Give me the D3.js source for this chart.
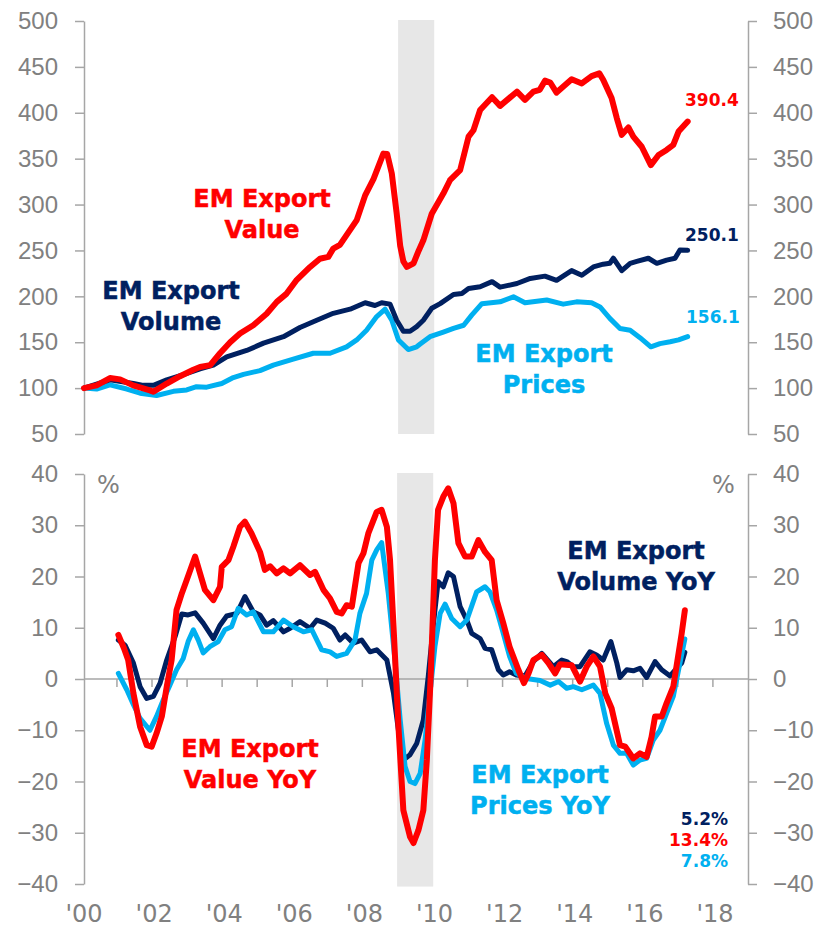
<!DOCTYPE html>
<html>
<head>
<meta charset="utf-8">
<script src="https://cdn.jsdelivr.net/npm/d3@7"></script>
<style>
  body { margin: 0; background: #fff; }
  svg { display: block; font-family: "DejaVu Sans", Verdana, sans-serif; }
  .axis path, .axis line { stroke: #a6a6a6; stroke-width: 1.5; }
  .axis text { fill: #808080; font-size: 24px; }
</style>
</head>
<body>
<svg id="chart" width="825" height="930"></svg>
<script>
// [year, index] pairs, Jan 2000 = 100
var exportValue = [[2000,100],[2000.36,103],[2000.74,111],[2001.03,109.5],[2001.4,103],[2001.88,97.5],[2001.98,96],[2002.36,105],[2002.74,113],[2003.12,120],[2003.31,123],[2003.6,125],[2003.88,138],[2004.17,150],[2004.45,159.5],[2004.83,168.5],[2005.21,181],[2005.5,194],[2005.78,203],[2006.07,218],[2006.45,232],[2006.73,241],[2006.97,243],[2007.11,252],[2007.3,256],[2007.78,283],[2008.02,310],[2008.26,328],[2008.54,355.5],[2008.65,355],[2008.78,334],[2008.92,290],[2009.02,255],[2009.11,238],[2009.21,232],[2009.4,236],[2009.55,250],[2009.68,261],[2009.92,290],[2010.25,312],[2010.44,326.5],[2010.73,337.5],[2010.97,374],[2011.11,381],[2011.3,403],[2011.64,417],[2011.87,407.5],[2012.35,423],[2012.58,414],[2012.82,423],[2013.0,425],[2013.15,435],[2013.3,433],[2013.48,422],[2013.91,436.5],[2014.2,432],[2014.48,440],[2014.7,443],[2014.81,436],[2015.05,416],[2015.2,394],[2015.34,376],[2015.53,384],[2015.67,374],[2015.91,363],[2016.17,343],[2016.39,354],[2016.62,359.5],[2016.81,365],[2016.96,379.5],[2017.22,390.4]];
var exportVolume = [[2000,100],[2000.74,109],[2001.41,105],[2001.69,103],[2001.98,103],[2002.36,109],[2002.79,114],[2003.31,121],[2003.69,125],[2004.07,134],[2004.64,141],[2005.12,149],[2005.69,156],[2006.16,166],[2006.64,174],[2007.11,181.5],[2007.59,186],[2008.02,193],[2008.3,190],[2008.49,193],[2008.73,191.5],[2008.92,174],[2009.11,162],[2009.3,162],[2009.49,167],[2009.68,174],[2009.92,187],[2010.16,192],[2010.54,202],[2010.78,203],[2010.97,208.5],[2011.3,210.5],[2011.64,216],[2011.87,210],[2012.35,214],[2012.73,219.5],[2013.15,222],[2013.48,217.5],[2013.91,228],[2014.2,223],[2014.53,232],[2014.81,235],[2015.0,236],[2015.1,241.5],[2015.34,228],[2015.58,236],[2015.77,238],[2016.1,241.5],[2016.34,236],[2016.62,239.5],[2016.86,241.5],[2017.0,250.5],[2017.22,250.1]];
var exportPrices = [[2000,100],[2000.36,99],[2000.74,103.5],[2001.22,99],[2001.6,94.5],[2002.07,92],[2002.55,96.5],[2002.93,98],[2003.21,101.5],[2003.5,101],[2003.93,105],[2004.26,111.5],[2004.55,115],[2005.02,119],[2005.4,125],[2005.97,131.5],[2006.54,138],[2007.02,138],[2007.49,145],[2007.78,152.5],[2008.06,163],[2008.35,178],[2008.59,186],[2008.78,174],[2008.97,152.5],[2009.25,142],[2009.49,145],[2009.59,148],[2009.87,156],[2010.25,161],[2010.54,165],[2010.83,168.5],[2011.06,179.5],[2011.35,192],[2011.87,194],[2012.25,199.5],[2012.58,193],[2013.2,196],[2013.67,191.5],[2014.05,194],[2014.48,193],[2014.72,188.5],[2015.0,176],[2015.29,165],[2015.58,163],[2015.86,155],[2016.17,145],[2016.43,148.5],[2016.72,150.5],[2016.96,152.5],[2017.22,156.1]];

// [year, % yoy]
var valueYoY = [[2000.98,8.6],[2001.14,6],[2001.26,3.7],[2001.41,-2.8],[2001.6,-9.3],[2001.79,-12.9],[2001.93,-13.2],[2002.07,-10.6],[2002.22,-7.3],[2002.36,-1.5],[2002.5,3.7],[2002.64,13.5],[2002.79,16.7],[2002.93,19.3],[2003.17,23.9],[2003.31,20.6],[2003.45,17.4],[2003.69,15.4],[2003.88,18],[2003.93,21.9],[2004.12,23.2],[2004.26,25.8],[2004.45,29.7],[2004.59,30.7],[2004.78,28.4],[2005.02,24.8],[2005.16,21.3],[2005.31,22],[2005.5,20.6],[2005.69,21.6],[2005.88,20.6],[2006.16,22.2],[2006.45,20.3],[2006.59,20.9],[2006.83,17.4],[2007.02,15.7],[2007.21,13.1],[2007.35,12.8],[2007.49,14.4],[2007.64,14.1],[2007.83,22.6],[2007.97,24.5],[2008.11,28.4],[2008.35,32.6],[2008.49,33],[2008.64,29.7],[2008.73,23.2],[2008.83,10.2],[2008.97,-9.3],[2009.11,-25.6],[2009.3,-30.8],[2009.4,-32],[2009.54,-29.5],[2009.68,-25.6],[2009.78,-15.8],[2009.89,0.5],[2010.01,23.2],[2010.1,33],[2010.25,35.6],[2010.39,37.2],[2010.54,34.3],[2010.68,26.5],[2010.87,23.9],[2011.06,23.9],[2011.25,27.1],[2011.44,24.8],[2011.63,23.2],[2011.77,15.4],[2011.96,10.9],[2012.14,6.3],[2012.39,1.8],[2012.55,-0.8],[2012.68,1.1],[2012.82,3.7],[2013.06,4.7],[2013.25,3.1],[2013.44,1.1],[2013.58,2.9],[2013.91,2.7],[2014.15,-0.5],[2014.34,2.4],[2014.53,4.4],[2014.72,2.4],[2014.87,-2.8],[2015.05,-5.7],[2015.29,-12.9],[2015.44,-13.2],[2015.67,-15.5],[2015.86,-14.5],[2016.05,-15.2],[2016.19,-11.3],[2016.29,-7.3],[2016.48,-7.3],[2016.62,-4.7],[2016.81,-1.5],[2016.96,5],[2017.05,8.9],[2017.14,13.4]];
var volumeYoY = [[2000.98,7.6],[2001.17,6.6],[2001.41,3.1],[2001.6,-1.5],[2001.79,-3.8],[2001.98,-3.4],[2002.17,-0.8],[2002.36,3.7],[2002.6,8.3],[2002.79,12.7],[2002.97,12.5],[2003.17,12.9],[2003.4,10.9],[2003.69,7.9],[2003.88,10.5],[2004.07,12.3],[2004.36,12.8],[2004.59,16.1],[2004.83,13.1],[2005.02,12.5],[2005.21,10.5],[2005.4,11.4],[2005.69,9.2],[2005.88,9.9],[2006.16,11.2],[2006.45,9.9],[2006.64,11.5],[2006.88,10.9],[2007.11,9.9],[2007.3,7.6],[2007.45,8.6],[2007.68,7],[2007.92,7.6],[2008.16,5.3],[2008.35,5.7],[2008.64,3.7],[2008.83,-2.8],[2009.02,-12.6],[2009.11,-15.8],[2009.3,-14.8],[2009.49,-12.6],[2009.68,-8],[2009.82,0.5],[2009.96,10.2],[2010.1,19],[2010.25,18],[2010.39,20.7],[2010.54,20],[2010.73,14.1],[2010.92,11.5],[2011.06,8.9],[2011.3,7.9],[2011.44,6],[2011.63,5.7],[2011.82,1.8],[2011.96,0.8],[2012.14,1.4],[2012.33,0.8],[2012.58,0.6],[2012.82,3.4],[2013.06,5],[2013.39,2.4],[2013.63,3.7],[2013.77,3.4],[2013.96,2.4],[2014.15,2.4],[2014.43,5.3],[2014.62,4.7],[2014.81,3.7],[2015.03,7.3],[2015.2,3.1],[2015.29,0.3],[2015.48,1.8],[2015.67,1.6],[2015.86,2.1],[2016.05,0.3],[2016.29,3.4],[2016.48,1.8],[2016.72,0.6],[2016.91,2.1],[2017.05,3.1],[2017.14,5.2]];
var pricesYoY = [[2000.98,1.1],[2001.22,-2.1],[2001.41,-5],[2001.6,-7.7],[2001.88,-10],[2002.07,-7.3],[2002.26,-4.1],[2002.45,-1.2],[2002.64,1.8],[2002.83,4],[2002.97,7.3],[2003.12,9.6],[2003.26,7.6],[2003.4,5.1],[2003.59,6.3],[2003.83,7.3],[2004.02,9.6],[2004.21,10.2],[2004.4,13.8],[2004.64,12.5],[2004.83,13.1],[2005.12,9.2],[2005.4,9.2],[2005.69,11.5],[2005.97,10.2],[2006.26,9.2],[2006.5,9.6],[2006.78,5.7],[2007.02,5.3],[2007.21,4.4],[2007.49,5],[2007.73,7.6],[2007.87,12.8],[2008.06,16.7],[2008.21,23.2],[2008.35,25.2],[2008.49,26.6],[2008.68,16.7],[2008.87,3.7],[2009.02,-8],[2009.16,-17.1],[2009.3,-20],[2009.44,-20.4],[2009.59,-18.4],[2009.73,-11.9],[2009.87,-2.8],[2010.01,6.3],[2010.16,12.8],[2010.3,14.6],[2010.49,11.8],[2010.73,10.2],[2010.92,11.5],[2011.2,17],[2011.44,18],[2011.58,17],[2011.77,13.5],[2011.96,8.9],[2012.14,4.4],[2012.33,1.1],[2012.62,0.1],[2013.01,-0.3],[2013.3,-1.2],[2013.54,-0.5],[2013.77,-1.8],[2013.96,-1.5],[2014.2,-2.1],[2014.53,-1.2],[2014.72,-2.8],[2014.91,-8.7],[2015.1,-12.9],[2015.29,-14.5],[2015.48,-14.5],[2015.67,-16.8],[2015.86,-15.8],[2016.05,-15.5],[2016.24,-11.9],[2016.43,-10],[2016.62,-6.7],[2016.81,-3.4],[2017.0,3.1],[2017.14,7.8]];

var topTicks = [50, 100, 150, 200, 250, 300, 350, 400, 450, 500];
var bottomTicks = [-40, -30, -20, -10, 0, 10, 20, 30, 40];
var yearLabels = ["'00", "'02", "'04", "'06", "'08", "'10", "'12", "'14", "'16", "'18"];
var labelYears = [2000, 2002, 2004, 2006, 2008, 2010, 2012, 2014, 2016, 2018];
var tickYears = [2001, 2002, 2003, 2004, 2005, 2006, 2007, 2008, 2009, 2010, 2011, 2012, 2013, 2014, 2015, 2016, 2017, 2018];
var recession = [2008.96, 2009.99];

var RED = "#ff0000", NAVY = "#002060", BLUE = "#00b0f0";

var svg = d3.select("#chart");
var x = d3.scaleLinear().domain([2000, 2018]).range([84, 715]);
var leftX = 84, rightX = 748;

var yTop = d3.scaleLinear().domain([50, 500]).range([434, 21]);
var yBot = d3.scaleLinear().domain([-40, 40]).range([884, 474]);

// recession shading
svg.append("rect").attr("x", x(recession[0])).attr("width", x(recession[1]) - x(recession[0]))
  .attr("y", yTop(500) - 1).attr("height", yTop(50) - yTop(500) + 1).attr("fill", "#e7e7e7");
svg.append("rect").attr("x", x(recession[0]) - 1).attr("width", x(recession[1]) - x(recession[0]))
  .attr("y", yBot(40) - 1).attr("height", yBot(-40.5) - yBot(40) + 1).attr("fill", "#e7e7e7");

function yAxes(scale, ticks) {
  svg.append("g").attr("class", "axis").attr("transform", "translate(" + leftX + ",0)")
    .call(d3.axisLeft(scale).tickValues(ticks).tickSize(9).tickPadding(17).tickSizeOuter(0));
  svg.append("g").attr("class", "axis").attr("transform", "translate(" + rightX + ",0)")
    .call(d3.axisRight(scale).tickValues(ticks).tickSize(9).tickPadding(16).tickSizeOuter(0));
}
yAxes(yTop, topTicks);
yAxes(yBot, bottomTicks);

// zero line with year ticks
var zero = svg.append("g").attr("class", "axis");
zero.append("line").attr("x1", leftX).attr("x2", rightX).attr("y1", yBot(0)).attr("y2", yBot(0));
zero.selectAll(".yt").data(tickYears).enter().append("line")
  .attr("x1", function(d) { return x(d - 0.06); }).attr("x2", function(d) { return x(d - 0.06); })
  .attr("y1", yBot(0)).attr("y2", yBot(0) + 8);

svg.selectAll(".xl").data(labelYears).enter().append("text")
  .attr("x", function(d) { return x(d); }).attr("y", 922)
  .attr("text-anchor", "middle").attr("fill", "#808080").style("font-size", "24px")
  .text(function(d, i) { return yearLabels[i]; });

var line = function(scale) {
  return d3.line().x(function(d) { return x(d[0]); }).y(function(d) { return scale(d[1]); });
};

function drawLine(data, scale, color, w) {
  svg.append("path").datum(data).attr("d", line(scale))
    .attr("fill", "none").attr("stroke", color).attr("stroke-width", w)
    .attr("stroke-linejoin", "round").attr("stroke-linecap", "round");
}

drawLine(exportPrices, yTop, BLUE, 5);
drawLine(exportVolume, yTop, NAVY, 5);
drawLine(exportValue, yTop, RED, 6);

drawLine(volumeYoY, yBot, NAVY, 5);
drawLine(pricesYoY, yBot, BLUE, 5);
drawLine(valueYoY, yBot, RED, 6);

function label(lines, cx, y0, color) {
  lines.forEach(function(t, i) {
    svg.append("text").attr("x", cx).attr("y", y0 + i * 30.5)
      .attr("text-anchor", "middle").attr("fill", color)
      .attr("stroke", color).attr("stroke-width", 0.5)
      .style("font-size", "24px").style("font-weight", "bold").text(t);
  });
}
label(["EM Export", "Value"], 262, 207, RED);
label(["EM Export", "Volume"], 171, 299, NAVY);
label(["EM Export", "Prices"], 544, 362, BLUE);
label(["EM Export", "Volume YoY"], 636, 559, NAVY);
label(["EM Export", "Prices YoY"], 540, 783, BLUE);
label(["EM Export", "Value YoY"], 250, 757, RED);

function endLabel(txt, xx, yy, color, anchor) {
  svg.append("text").attr("x", xx).attr("y", yy).attr("text-anchor", anchor || "start")
    .attr("fill", color).style("font-size", "17px").style("font-weight", "bold").text(txt);
}
var lastV = exportValue[exportValue.length - 1][1];
var lastVo = exportVolume[exportVolume.length - 1][1];
var lastP = exportPrices[exportPrices.length - 1][1];
endLabel(lastV.toFixed(1), 685, 106, RED);
endLabel(lastVo.toFixed(1), 685, 241, NAVY);
endLabel(lastP.toFixed(1), 686, 323, BLUE);
endLabel(volumeYoY[volumeYoY.length - 1][1].toFixed(1) + "%", 728, 825, NAVY, "end");
endLabel(valueYoY[valueYoY.length - 1][1].toFixed(1) + "%", 728, 846, RED, "end");
endLabel(pricesYoY[pricesYoY.length - 1][1].toFixed(1) + "%", 728, 867, BLUE, "end");

svg.append("text").attr("x", 97).attr("y", 493).attr("fill", "#808080").style("font-size", "24px").text("%");
svg.append("text").attr("x", 712).attr("y", 493).attr("fill", "#808080").style("font-size", "24px").text("%");
</script>
</body>
</html>
